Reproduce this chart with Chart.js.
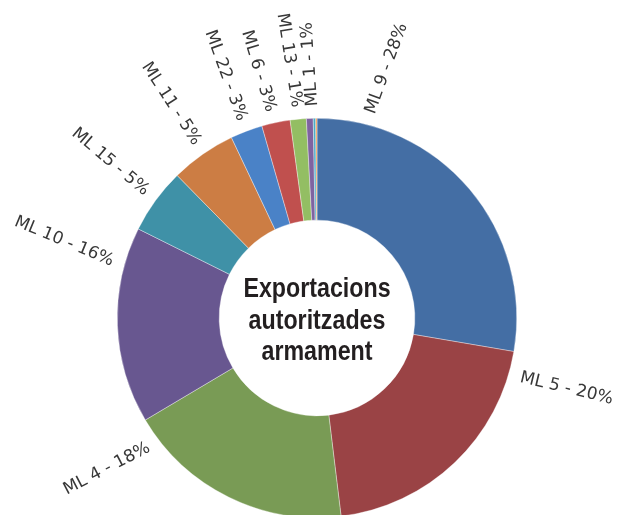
<!DOCTYPE html>
<html>
<head>
<meta charset="utf-8">
<script src="https://cdn.jsdelivr.net/npm/chart.js@4/dist/chart.umd.min.js"></script>
<style>
  html, body { margin: 0; padding: 0; background: #fff; overflow: hidden; }
  #wrap { width: 619px; height: 515px; overflow: hidden; }
</style>
</head>
<body>
<div id="wrap"><canvas id="donut" width="619" height="530"></canvas></div>
<script>
// ----------------------
// DATA
// ----------------------
const categories = ["ML 9", "ML 5", "ML 4", "ML 10", "ML 15", "ML 11", "ML 22", "ML 6", "ML 13", "ML 1", "", ""];
const shares = [27.7, 20.4, 18.4, 15.9, 5.3, 5.3, 2.6, 2.3, 1.3, 0.55, 0.2, 0.1];
const shareLabels = ["28%", "20%", "18%", "16%", "5%", "5%", "3%", "3%", "1%", "1%", "", ""];
const titleLines = ["Exportacions", "autoritzades", "armament"];

const colors = [
  "#446ea4", "#9a4345", "#799b55", "#685790", "#3f91a7", "#cc7d44",
  "#4a82c7", "#c0504e", "#93be63", "#7f63a1", "#4bacc6", "#f79646"
];

// label layout: anchor angle (deg clockwise from 12 o'clock) and text direction (deg, canvas)
const labelAngles = [14.6, 106.3, 232.5, 285.4, 306.4, 325.5, 339.2, 347.4, 354.5, 358.9];
const labelRotations = [-70, 13.5, -27.5, 22.6, 40, 57, 70, 73, 81, -94];

// ----------------------
// LABEL PLUGIN
// ----------------------
const radialLabels = {
  id: "radialLabels",
  afterDraw(chart) {
    const ctx = chart.ctx;
    const arc = chart.getDatasetMeta(0).data[0];
    const cx = arc.x, cy = arc.y;
    const r = arc.outerRadius + 12;

    ctx.save();
    ctx.font = "17px 'DejaVu Sans'";
    ctx.fillStyle = "#383838";
    ctx.textBaseline = "middle";
    labelAngles.forEach((a, i) => {
      const text = `${categories[i]} - ${shareLabels[i]}`;
      const rad = (a - 90) * Math.PI / 180;
      const x = cx + r * Math.cos(rad);
      const y = cy + r * Math.sin(rad);
      ctx.save();
      ctx.translate(x, y);
      ctx.rotate(labelRotations[i] * Math.PI / 180);
      // left half reads toward the centre, so the text ends at the anchor
      ctx.textAlign = (a > 180 && a < 356) ? "right" : "left";
      ctx.fillText(text, 0, 0);
      ctx.restore();
    });

    // centre title, squeezed to look like a condensed face
    ctx.font = "bold 28px 'Liberation Sans'";
    ctx.fillStyle = "#231f20";
    ctx.textAlign = "center";
    ctx.textBaseline = "alphabetic";
    const baselines = [297, 329, 360];
    titleLines.forEach((t, i) => {
      ctx.save();
      ctx.translate(cx, baselines[i]);
      ctx.scale(0.83, 1);
      ctx.fillText(t, 0, 0);
      ctx.restore();
    });
    ctx.restore();
  }
};

// ----------------------
// CHART
// ----------------------
new Chart(document.getElementById("donut"), {
  type: "doughnut",
  data: {
    labels: categories,
    datasets: [{
      data: shares,
      backgroundColor: colors,
      borderColor: "rgba(255,255,255,0.6)",
      borderWidth: 0.6
    }]
  },
  options: {
    responsive: false,
    animation: false,
    cutout: "49%",
    layout: { padding: { left: 117, right: 102, top: 118, bottom: 12 } },
    plugins: {
      legend: { display: false },
      tooltip: { enabled: false }
    }
  },
  plugins: [radialLabels]
});
</script>
</body>
</html>
